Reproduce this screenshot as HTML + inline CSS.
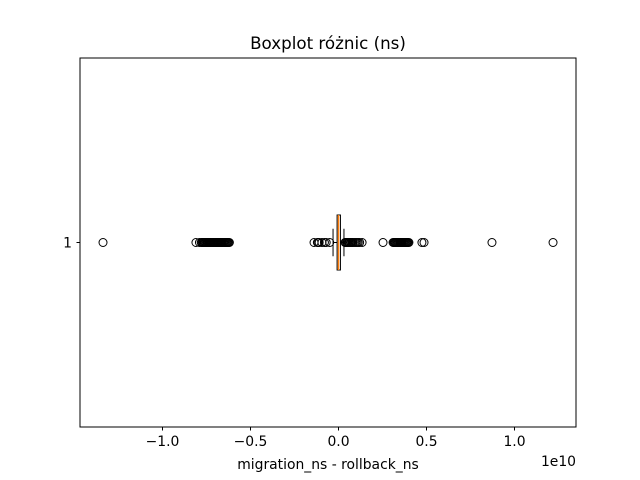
<!DOCTYPE html>
<html><head><meta charset="utf-8"><style>
body{margin:0;background:#fff;}
svg{display:block;font-family:"DejaVu Sans","Liberation Sans",sans-serif;}
</style></head><body>
<svg id="chart" width="640" height="480">
<rect width="640" height="480" fill="#fff"/>
<text x="328" y="49" font-size="16.7" text-anchor="middle">Boxplot różnic (ns)</text>
<g id="plot"></g>
<rect x="80" y="58" width="496" height="369" fill="none" stroke="#000" stroke-width="1"/>
<text x="328" y="469" font-size="13.9" text-anchor="middle">migration_ns - rollback_ns</text>
<text x="576" y="466" font-size="13.9" text-anchor="end">1e10</text>
</svg>
<script>
const xTicks=[-1.0,-0.5,0.0,0.5,1.0];
const xTickLabels=["−1.0","−0.5","0.0","0.5","1.0"];
const categories=["1"];
const q1=[-0.008];
const median=[0.0];
const q3=[0.011];
const whiskerLow=[-0.031];
const whiskerHigh=[0.031];
const outliers=[-1.338,-0.81,-0.79,-0.78,-0.775,-0.77,-0.765,-0.76,-0.755,-0.75,-0.745,-0.74,-0.735,-0.73,-0.725,-0.72,-0.715,-0.71,-0.705,-0.70,-0.695,-0.69,-0.685,-0.68,-0.675,-0.67,-0.665,-0.66,-0.655,-0.65,-0.645,-0.64,-0.635,-0.63,-0.625,-0.62,
-0.139,-0.12,-0.116,-0.11,-0.094,-0.08,-0.07,-0.05,0.037,0.042,0.048,0.052,0.058,0.062,0.068,0.072,0.078,0.082,0.09,0.098,0.105,0.112,0.12,0.134,
0.253,0.31,0.315,0.32,0.325,0.33,0.335,0.34,0.345,0.35,0.355,0.36,0.365,0.37,0.375,0.38,0.385,0.39,0.395,0.40,0.474,0.486,0.872,1.219];
const svg=document.getElementById('chart');
const g=document.getElementById('plot');
const NS='http://www.w3.org/2000/svg';
const X=v=>338.5+v*176;
const Y=i=>242.5;
function el(t,a){const e=document.createElementNS(NS,t);for(const k in a)e.setAttribute(k,a[k]);g.appendChild(e);return e;}
xTicks.forEach((t,i)=>{
 const l=el('line',{x1:X(t),x2:X(t),y1:427,y2:430.5,stroke:'#000'});
 
 
 const tx=el('text',{x:X(t),y:446,'font-size':13.9,'text-anchor':'middle'});tx.textContent=xTickLabels[i];
 
 
});
categories.forEach((c,i)=>{
 const y=Y(i);
 const l=el('line',{x1:76.5,x2:80,y1:y,y2:y,stroke:'#000'});
 
 
 const tx=el('text',{x:72,y:y+5,'font-size':13.9,'text-anchor':'end'});tx.textContent=c;
 
 
 const h=27.5;
 const w1=el('line',{x1:X(whiskerLow[i]),x2:X(q1[i]),y1:y,y2:y,stroke:'#000'});
 
 
 const w2=el('line',{x1:X(q3[i]),x2:X(whiskerHigh[i]),y1:y,y2:y,stroke:'#000'});
 
 
 const c1=el('line',{x1:X(whiskerLow[i]),x2:X(whiskerLow[i]),y1:y-h/2,y2:y+h/2,stroke:'#000'});
 
 
 const c2=el('line',{x1:X(whiskerHigh[i]),x2:X(whiskerHigh[i]),y1:y-h/2,y2:y+h/2,stroke:'#000'});
 
 
 outliers.forEach(v=>{
  const o=el('circle',{cx:X(v),cy:y,r:4,fill:'none',stroke:'#000'});
  
  
 });
 const b=el('rect',{x:X(q1[i]),y:y-27.5,width:X(q3[i])-X(q1[i]),height:55,fill:'none',stroke:'#000'});
 
 
 const m=el('line',{x1:X(median[i]),x2:X(median[i]),y1:y-27.5,y2:y+27.5,stroke:'#ff7f0e','stroke-width':1.5});
 
 
});
</script>
</body></html>
